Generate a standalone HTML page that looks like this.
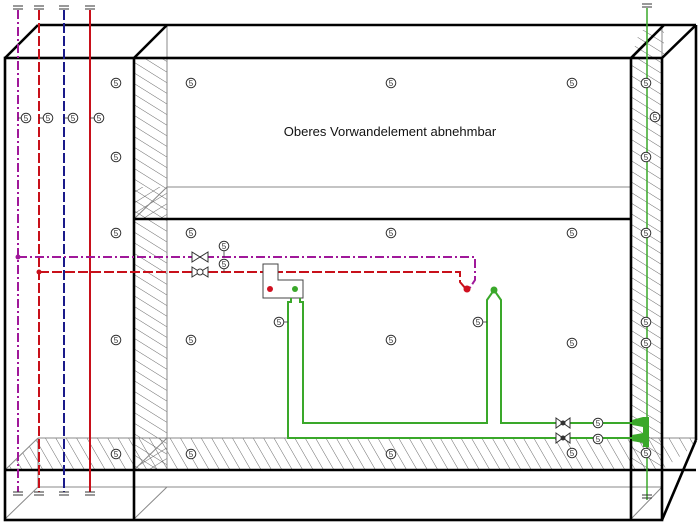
<!DOCTYPE html>
<html><head><meta charset="utf-8"><style>
html,body{margin:0;padding:0;background:#fff;}
svg{display:block;}
text{font-family:"Liberation Sans",sans-serif;}
</style></head><body>
<svg width="700" height="524" viewBox="0 0 700 524" xmlns="http://www.w3.org/2000/svg">
<defs>
<pattern id="h" patternUnits="userSpaceOnUse" width="9" height="9" patternTransform="rotate(-58)">
<line x1="0" y1="0" x2="0" y2="9" stroke="#444" stroke-width="0.8"/>
</pattern>
<pattern id="hb" patternUnits="userSpaceOnUse" width="9" height="9" patternTransform="rotate(-30)">
<line x1="0" y1="0" x2="0" y2="9" stroke="#444" stroke-width="0.8"/>
</pattern>
<pattern id="h2" patternUnits="userSpaceOnUse" width="9" height="9" patternTransform="rotate(58)">
<line x1="0" y1="0" x2="0" y2="9" stroke="#444" stroke-width="0.8"/>
</pattern>
<g id="c"><circle r="4.8" fill="#fff" stroke="#333" stroke-width="1"/><text y="3" font-size="8" text-anchor="middle" fill="#333">5</text></g>
<g id="cap"><line x1="-5" x2="5" y1="0" y2="0" stroke="#333" stroke-width="1"/><line x1="-5" x2="5" y1="3" y2="3" stroke="#333" stroke-width="1"/></g>
</defs>
<!-- hatched areas -->
<rect x="134" y="58" width="33" height="412" fill="url(#h)"/>
<rect x="134" y="187" width="33" height="32" fill="url(#h2)"/>
<rect x="631" y="58" width="31" height="412" fill="url(#h)"/>
<polygon points="631,58 662,58 664,56 664,30 640,30" fill="url(#h)"/>
<polygon points="5,470 38,438 695,438 695,445 662,470" fill="url(#hb)"/>
<polygon points="134,470 167,438 167,470" fill="url(#h2)"/>
<!-- grey thin lines -->
<g stroke="#888" stroke-width="1" fill="none">
<line x1="167" y1="25" x2="167" y2="470"/>
<line x1="167" y1="187" x2="631" y2="187"/>
<line x1="38" y1="438" x2="695" y2="438"/>
<line x1="38" y1="487" x2="662" y2="487"/>
<line x1="38" y1="438" x2="38" y2="487"/>
<line x1="5" y1="519" x2="38" y2="487"/>
<line x1="134" y1="519" x2="167" y2="487"/>
<line x1="5" y1="470" x2="38" y2="438"/>
<line x1="134" y1="219" x2="167" y2="187"/>
<line x1="134" y1="470" x2="167" y2="438"/>
<line x1="631" y1="519" x2="662" y2="487"/>
<line x1="662" y1="25" x2="662" y2="58"/>
</g>
<!-- black frame -->
<g stroke="#000" stroke-width="2.6" fill="none">
<line x1="38" y1="25" x2="696" y2="25"/>
<line x1="5" y1="58" x2="38" y2="25"/>
<line x1="134" y1="58" x2="167" y2="25"/>
<line x1="631" y1="58" x2="664" y2="25"/>
<line x1="662" y1="58" x2="696" y2="25"/>
<line x1="696" y1="25" x2="696" y2="440"/>
<line x1="662" y1="520" x2="696" y2="440"/>
<rect x="5" y="58" width="657" height="462"/>
<line x1="134" y1="58" x2="134" y2="520"/>
<line x1="631" y1="58" x2="631" y2="520"/>
<line x1="134" y1="219" x2="631" y2="219"/>
<line x1="5" y1="470" x2="696" y2="470"/>
</g>
<text x="390" y="136" font-size="13" text-anchor="middle" fill="#111">Oberes Vorwandelement abnehmbar</text>
<!-- riser pipes -->
<line x1="18" y1="10" x2="18" y2="492" stroke="#a0189a" stroke-width="2" stroke-dasharray="9,3,2,3"/>
<line x1="39" y1="10" x2="39" y2="492" stroke="#c8101a" stroke-width="2" stroke-dasharray="10,3"/>
<line x1="64" y1="10" x2="64" y2="492" stroke="#1a1a8a" stroke-width="2" stroke-dasharray="10,3"/>
<line x1="90" y1="10" x2="90" y2="492" stroke="#c8101a" stroke-width="2"/>
<line x1="647" y1="8" x2="647" y2="500" stroke="#3aa82a" stroke-width="1.5"/>
<use href="#cap" x="18" y="6"/><use href="#cap" x="39" y="6"/><use href="#cap" x="64" y="6"/><use href="#cap" x="90" y="6"/>
<use href="#cap" x="18" y="492"/><use href="#cap" x="39" y="492"/><use href="#cap" x="64" y="492"/><use href="#cap" x="90" y="492"/>
<use href="#cap" x="647" y="4"/><use href="#cap" x="647" y="495"/>
<g stroke="#333" stroke-width="0.8"><line x1="18" y1="118" x2="22" y2="118"/><line x1="39" y1="118" x2="43" y2="118"/><line x1="64" y1="118" x2="68" y2="118"/><line x1="90" y1="118" x2="94" y2="118"/></g>
<use href="#c" x="26" y="118"/><use href="#c" x="48" y="118"/><use href="#c" x="73" y="118"/><use href="#c" x="99" y="118"/>
<!-- horizontal branches -->
<polyline points="18,257 475,257 475,280 469,289" fill="none" stroke="#a0189a" stroke-width="2" stroke-dasharray="9,3,2,3"/>
<polyline points="39,272 460,272 460,282 466,289" fill="none" stroke="#c8101a" stroke-width="2" stroke-dasharray="10,3"/>
<circle cx="18" cy="257" r="2.5" fill="#a0189a"/><circle cx="39" cy="272" r="2.5" fill="#c8101a"/>
<circle cx="467" cy="289" r="3.5" fill="#d01020"/>
<!-- valves -->
<g fill="#fff" stroke="#333" stroke-width="1">
<polygon points="192,252 208,262 208,252 192,262"/>
<polygon points="192,267 208,277 208,267 192,277"/>
<circle cx="200" cy="272" r="3"/>
</g>
<line x1="224" y1="250" x2="224" y2="257" stroke="#333" stroke-width="0.8"/>
<line x1="224" y1="266" x2="224" y2="272" stroke="#333" stroke-width="0.8"/>
<use href="#c" x="224" y="246"/><use href="#c" x="224" y="264"/>
<!-- wall box -->
<polygon points="263,264 278,264 278,280 303,280 303,298 263,298" fill="#fff" stroke="#444" stroke-width="1"/>
<circle cx="270" cy="289" r="3" fill="#d01020"/><circle cx="295" cy="289" r="3" fill="#3aa82a"/>
<!-- green pipes -->
<g fill="none" stroke="#3aa82a" stroke-width="2">
<polyline points="291,298 291,302 288,302 288,438 640,438"/>
<polyline points="300,298 300,302 303,302 303,423 487,423 487,300 494,290 501,300 501,423 640,423"/>
</g>
<circle cx="494" cy="290" r="3.5" fill="#3aa82a"/>
<rect x="643" y="417" width="6" height="30" fill="#3aa82a"/>
<polygon points="632,420 643,417 643,427 632,425" fill="#3aa82a"/>
<polygon points="632,435 643,433 643,443 632,441" fill="#3aa82a"/>
<g fill="#fff" stroke="#333" stroke-width="1">
<polygon points="556,418 570,428 570,418 556,428"/>
<polygon points="556,433 570,443 570,433 556,443"/>
</g>
<circle cx="563" cy="423" r="2.5" fill="#333"/><circle cx="563" cy="438" r="2.5" fill="#333"/>
<use href="#c" x="598" y="423"/><use href="#c" x="598" y="439"/><use href="#c" x="572" y="453"/>
<line x1="284" y1="322" x2="288" y2="322" stroke="#333" stroke-width="0.8"/>
<line x1="483" y1="322" x2="487" y2="322" stroke="#333" stroke-width="0.8"/>
<use href="#c" x="279" y="322"/><use href="#c" x="478" y="322"/>
<!-- scattered labels -->
<use href="#c" x="116" y="83"/><use href="#c" x="116" y="157"/><use href="#c" x="116" y="233"/><use href="#c" x="116" y="340"/><use href="#c" x="116" y="454"/>
<use href="#c" x="191" y="83"/><use href="#c" x="191" y="233"/><use href="#c" x="191" y="340"/><use href="#c" x="191" y="454"/>
<use href="#c" x="391" y="83"/><use href="#c" x="391" y="233"/><use href="#c" x="391" y="340"/><use href="#c" x="391" y="454"/>
<use href="#c" x="572" y="83"/><use href="#c" x="572" y="233"/><use href="#c" x="572" y="343"/>
<use href="#c" x="646" y="83"/><use href="#c" x="655" y="117"/><use href="#c" x="646" y="157"/><use href="#c" x="646" y="233"/><use href="#c" x="646" y="322"/><use href="#c" x="646" y="343"/><use href="#c" x="646" y="453"/>
</svg>
</body></html>
